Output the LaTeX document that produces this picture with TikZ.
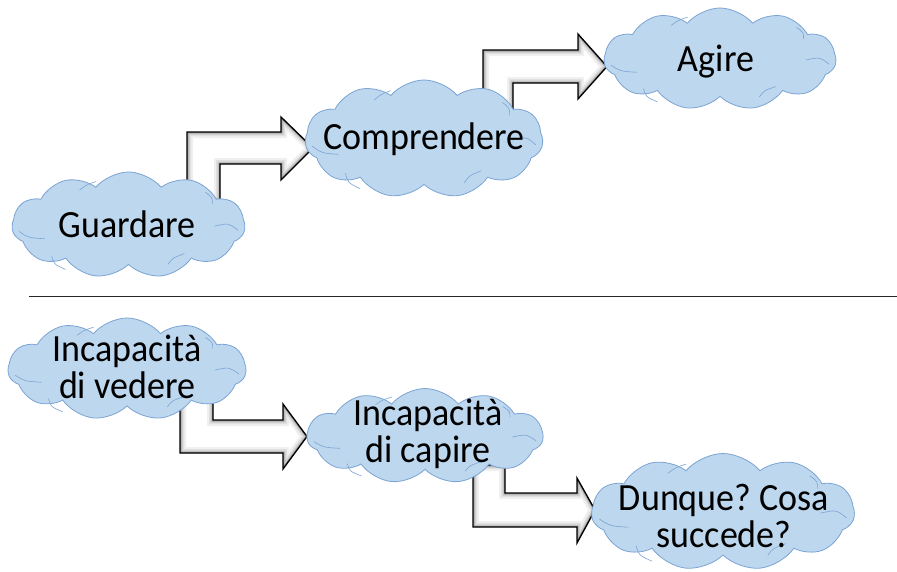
\documentclass[tikz,border=0pt]{standalone}
\usepackage{fontspec}
\usepackage{graphicx}
\setmainfont{Carlito}
\frenchspacing
\usetikzlibrary{shapes.symbols}
\definecolor{cloudfill}{HTML}{BDD7EE}
\definecolor{cloudline}{HTML}{7BA3D4}
% one line of label text, slightly tall
\newcommand\tallline[1]{\scalebox{1}[1.07]{#1}}
% block arrow: white body, soft inner shadow, black outline
\newcommand\blockarrow[1]{%
  \fill[white] #1;
  \begin{scope}
    \clip #1;
    \draw[line width=12pt, black!6, line join=miter] #1;
    \draw[line width=8pt, black!12, line join=miter] #1;
    \draw[line width=5pt, black!22, line join=miter] #1;
    \draw[line width=2.5pt, black!40, line join=miter] #1;
  \end{scope}
  \draw[line width=1.3pt, black, line join=miter] #1;}
% inner fold lines of a cloud: #1 node name, #2 width, #3 height
\newcommand\cloudfolds[3]{%
  \begin{scope}[shift={(#1.center)}, xscale=#2, yscale=#3, crease]
    \draw (-0.47,0.06) .. controls (-0.43,0.12) .. (-0.36,0.13);
    \draw (-0.33,0.29) .. controls (-0.32,0.37) .. (-0.27,0.42);
    \draw (0.17,0.37) .. controls (0.19,0.31) .. (0.24,0.27);
    \draw (0.37,0.01) .. controls (0.43,-0.02) .. (0.47,0.05);
    \draw (0.33,-0.31) .. controls (0.36,-0.26) .. (0.36,-0.2);
    \draw (-0.21,-0.33) .. controls (-0.18,-0.38) .. (-0.14,-0.41);
  \end{scope}}
\begin{document}
\begin{tikzpicture}[x=1pt,y=-1pt,
  bubble/.style={cloud, cloud puffs=11, cloud puff arc=100, cloud ignores aspect,
    draw=cloudline, fill=cloudfill, line width=0.8pt, inner sep=0pt},
  crease/.style={draw=cloudline, line width=0.6pt},
  label/.style={font=\fontsize{36}{37}\selectfont, align=center, inner sep=0pt, text=black}]
\useasboundingbox (0,0) rectangle (897,571);

% bent arrows, drawn first so the clouds sit on top of their stems
\blockarrow{(187,200) -- (187,132) -- (281,132) -- (281,117) -- (313,148) -- (281,180) -- (281,164) -- (220,164) -- (220,200) -- cycle}
\blockarrow{(483,120) -- (483,50) -- (578,50) -- (578,34) -- (607,66.5) -- (578,99) -- (578,83) -- (513,83) -- (513,120) -- cycle}
\blockarrow{(180,390) -- (180,453) -- (283,453) -- (283,469) -- (307,436.5) -- (283,404) -- (283,420) -- (213,420) -- (213,390) -- cycle}
\blockarrow{(473,465) -- (473,527) -- (577,527) -- (577,543) -- (595,510) -- (577,478) -- (577,493) -- (505,493) -- (505,465) -- cycle}

% upper row
\node[bubble, minimum width=233pt, minimum height=106pt] (guardare) at (128.5,225) {};
\cloudfolds{guardare}{233}{106}
\node[label] (guardareT) at (127,224) {\tallline{Guardare}};
\node[bubble, minimum width=238pt, minimum height=118pt] (comprendere) at (424,139) {};
\cloudfolds{comprendere}{238}{118}
\node[label] (comprendereT) at (424,139) {\tallline{Comprendere}};
\node[bubble, minimum width=232pt, minimum height=102pt] (agire) at (720,59) {};
\cloudfolds{agire}{232}{102}
\node[label] (agireT) at (716,62) {\tallline{Agire}};

% separator
\coordinate (sepL) at (29,296.5);
\coordinate (sepR) at (897,296.5);
\draw[line width=1.5pt, black!85] (sepL) -- (sepR);

% lower row
\node[bubble, minimum width=238pt, minimum height=102pt] (vedere) at (127,369) {};
\cloudfolds{vedere}{238}{102}
\node[label] (vedereT) at (127,367) {\tallline{Incapacità}\\\tallline{di vedere}};
\node[bubble, minimum width=236pt, minimum height=95pt] (capire) at (425,436) {};
\cloudfolds{capire}{236}{95}
\node[label] (capireT) at (428,434) {\tallline{Incapacità}\\\tallline{di capire}};
\node[bubble, minimum width=263pt, minimum height=117pt] (dunque) at (723,512) {};
\cloudfolds{dunque}{263}{117}
\node[label] (dunqueT) at (724,516) {\tallline{Dunque? Cosa}\\\tallline{succede?}};
\end{tikzpicture}
\end{document}
